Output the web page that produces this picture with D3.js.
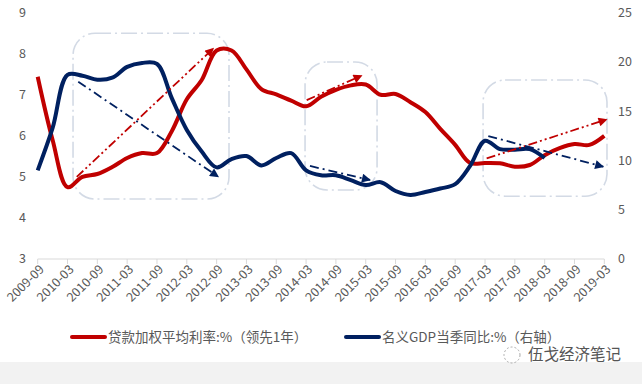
<!DOCTYPE html>
<meta charset="utf-8">
<html>
<head>
<style>
  body { margin: 0; background: #fff; }
  text { font-family: "Noto Sans CJK SC", "Liberation Sans", sans-serif; fill: #595959; }
</style>
</head>
<body>
<div id="chart"></div>
<script src="https://d3js.org/d3.v7.min.js"></script>
<script>

  // quarters on the x axis
  var quarters = ["2009-09","2009-12","2010-03","2010-06","2010-09","2010-12","2011-03","2011-06",
    "2011-09","2011-12","2012-03","2012-06","2012-09","2012-12","2013-03","2013-06","2013-09",
    "2013-12","2014-03","2014-06","2014-09","2014-12","2015-03","2015-06","2015-09","2015-12",
    "2016-03","2016-06","2016-09","2016-12","2017-03","2017-06","2017-09","2017-12","2018-03",
    "2018-06","2018-09","2018-12","2019-03"];

  // labelled ticks (every half year)
  var tickLabels = ["2009-09","2010-03","2010-09","2011-03","2011-09","2012-03","2012-09","2013-03",
    "2013-09","2014-03","2014-09","2015-03","2015-09","2016-03","2016-09","2017-03","2017-09",
    "2018-03","2018-09","2019-03"];

  // 贷款加权平均利率 (left axis, %)
  var loanRate = [7.44, 5.9, 4.75, 5.0, 5.07, 5.24, 5.46, 5.58, 5.58, 6.12, 6.89, 7.36, 8.08, 8.08,
    7.62, 7.14, 7.01, 6.86, 6.72, 6.95, 7.12, 7.23, 7.25, 7.0, 7.02, 6.82, 6.58, 6.17, 5.78, 5.34,
    5.34, 5.33, 5.25, 5.29, 5.53, 5.7, 5.8, 5.78, 6.0];

  // 名义GDP当季同比 (right axis, %)
  var gdpYoy = [9.0, 13.3, 18.7, 18.6, 18.2, 18.4, 19.5, 19.9, 19.8, 16.3, 13.1, 10.9, 9.3, 10.15,
    10.45, 9.5, 10.25, 10.75, 9.0, 8.5, 8.5, 8.0, 7.5, 7.8, 6.9, 6.5, 6.8, 7.15, 7.6, 9.45, 12.0,
    11.15, 11.1, 11.15, 10.25];

  var leftTicks = [3, 4, 5, 6, 7, 8, 9];
  var rightTicks = [0, 5, 10, 15, 20, 25];

  // highlighted periods: [start index, end index, top value, bottom value] on left axis
  var boxes = [[2.37, 12.83, 8.5, 4.46], [17.93, 22.76, 7.8, 4.68], [29.87, 38.18, 7.36, 4.53]];

  // trend arrows: [start index, start value, end index, end value]
  var redArrows = [[2.62, 5.0, 11.78, 8.13], [18.04, 6.87, 21.73, 7.47], [30.11, 5.45, 38.16, 6.4]];
  var blueArrows = [[2.72, 18.0, 12.11, 8.35], [18.26, 9.44, 22.29, 8.02], [30.22, 12.48, 37.93, 9.37]];

  var legendItems = [
    {name: "贷款加权平均利率:%（领先1年）", color: "#c00000"},
    {name: "名义GDP当季同比:%（右轴）", color: "#002060"}
  ];

  var W = 642, H = 384;
  var svg = d3.select("#chart").append("svg")
    .attr("width", W)
    .attr("height", H);

  var x = d3.scaleLinear().domain([0, quarters.length - 1]).range([37.7, 604.3]);
  var yL = d3.scaleLinear().domain([3, 9]).range([259, 12.7]);
  var yR = d3.scaleLinear().domain([0, 25]).range([259, 12.7]);

  var red = "#c00000", blue = "#002060";

  // arrow heads
  var defs = svg.append("defs");
  [["arrRed", red], ["arrBlue", blue]].forEach(function(m) {
    defs.append("marker")
      .attr("id", m[0])
      .attr("viewBox", "0 0 10 10")
      .attr("refX", 9).attr("refY", 5)
      .attr("markerWidth", 10).attr("markerHeight", 9)
      .attr("markerUnits", "userSpaceOnUse")
      .attr("orient", "auto")
      .append("path")
      .attr("d", "M0,0 L10,5 L0,10 z")
      .attr("fill", m[1]);
  });

  // boxes
  svg.selectAll(".box").data(boxes).enter().append("rect")
    .attr("class", "box")
    .attr("x", function(d) { return x(d[0]); })
    .attr("y", function(d) { return yL(d[2]); })
    .attr("width", function(d) { return x(d[1]) - x(d[0]); })
    .attr("height", function(d) { return yL(d[3]) - yL(d[2]); })
    .attr("rx", 22).attr("ry", 22)
    .attr("fill", "none")
    .attr("stroke", "#d3dae5")
    .attr("stroke-width", 1.6)
    .attr("stroke-dasharray", "16,4,2,4");

  // x axis
  var axisG = svg.append("g");
  axisG.append("line")
    .attr("x1", x(0)).attr("x2", x(quarters.length - 1))
    .attr("y1", yL(3)).attr("y2", yL(3))
    .attr("stroke", "#d9d9d9");
  axisG.selectAll(".tk").data(tickLabels).enter().append("line")
    .attr("x1", function(d) { return x(quarters.indexOf(d)); })
    .attr("x2", function(d) { return x(quarters.indexOf(d)); })
    .attr("y1", yL(3)).attr("y2", yL(3) + 5)
    .attr("stroke", "#d9d9d9");
  axisG.selectAll(".tl").data(tickLabels).enter().append("text")
    .attr("transform", function(d) {
      return "translate(" + (x(quarters.indexOf(d)) + 4) + "," + (yL(3) + 8) + ") rotate(-45)";
    })
    .attr("text-anchor", "end")
    .attr("dy", "0.35em")
    .style("font-size", "12.5px")
    .text(function(d) { return d; });

  // y axis labels
  svg.selectAll(".yl").data(leftTicks).enter().append("text")
    .attr("x", 26).attr("y", function(d) { return yL(d); })
    .attr("dy", "0.35em")
    .attr("text-anchor", "end")
    .style("font-size", "12.5px")
    .text(function(d) { return d; });
  svg.selectAll(".yr").data(rightTicks).enter().append("text")
    .attr("x", 618).attr("y", function(d) { return yR(d); })
    .attr("dy", "0.35em")
    .attr("text-anchor", "start")
    .style("font-size", "12.5px")
    .text(function(d) { return d; });

  // lines
  var lineL = d3.line()
    .x(function(d, i) { return x(i); })
    .y(function(d) { return yL(d); })
    .curve(d3.curveCatmullRom);
  var lineR = d3.line()
    .x(function(d, i) { return x(i); })
    .y(function(d) { return yR(d); })
    .curve(d3.curveCatmullRom);

  svg.append("path").datum(loanRate)
    .attr("fill", "none").attr("stroke", red).attr("stroke-width", 4)
    .attr("stroke-linejoin", "round")
    .attr("d", lineL);
  svg.append("path").datum(gdpYoy)
    .attr("fill", "none").attr("stroke", blue).attr("stroke-width", 4)
    .attr("stroke-linejoin", "round")
    .attr("d", lineR);

  // trend arrows
  svg.selectAll(".ra").data(redArrows).enter().append("line")
    .attr("x1", function(d) { return x(d[0]); })
    .attr("y1", function(d) { return yL(d[1]); })
    .attr("x2", function(d) { return x(d[2]); })
    .attr("y2", function(d) { return yL(d[3]); })
    .attr("stroke", red).attr("stroke-width", 1.8)
    .attr("stroke-dasharray", "9,3,2,3,2,3")
    .attr("marker-end", "url(#arrRed)");
  svg.selectAll(".ba").data(blueArrows).enter().append("line")
    .attr("x1", function(d) { return x(d[0]); })
    .attr("y1", function(d) { return yR(d[1]); })
    .attr("x2", function(d) { return x(d[2]); })
    .attr("y2", function(d) { return yR(d[3]); })
    .attr("stroke", blue).attr("stroke-width", 1.8)
    .attr("stroke-dasharray", "9,4,2,4")
    .attr("marker-end", "url(#arrBlue)");

  // legend
  var lg = svg.selectAll(".lg").data(legendItems).enter().append("g")
    .attr("transform", function(d, i) { return "translate(" + (72 + i * 274) + ",337)"; });
  lg.append("line")
    .attr("x1", 0).attr("x2", 33)
    .attr("stroke", function(d) { return d.color; })
    .attr("stroke-width", 4)
    .attr("stroke-linecap", "round");
  lg.append("text")
    .attr("x", 36).attr("dy", "0.35em")
    .style("font-size", "13.5px")
    .text(function(d) { return d.name; });

  // footer band + watermark
  svg.append("rect")
    .attr("x", 0).attr("y", 362).attr("width", W).attr("height", H - 362)
    .attr("fill", "#f2f2f2");
  svg.append("circle")
    .attr("cx", 512).attr("cy", 355).attr("r", 8)
    .attr("fill", "none").attr("stroke", "#aaa").attr("stroke-width", 1)
    .attr("stroke-dasharray", "2,2");
  svg.append("text")
    .attr("x", 528).attr("y", 355).attr("dy", "0.35em")
    .style("font-size", "15.5px")
    .style("fill", "#555")
    .text("伍戈经济笔记");

</script>
</body>
</html>
